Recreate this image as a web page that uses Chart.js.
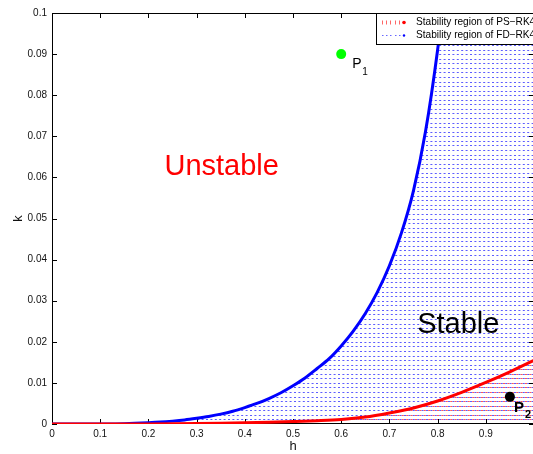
<!DOCTYPE html>
<html>
<head>
<meta charset="utf-8">
<script src="https://cdn.jsdelivr.net/npm/chart.js@4.4.1/dist/chart.umd.min.js"></script>
<style>
  html, body { margin: 0; padding: 0; overflow: hidden; background: #fff; width: 533px; height: 454px; }
  canvas { display: block; }
</style>
</head>
<body>
<canvas id="c" width="539" height="454"></canvas>
<script>
// Stability boundary of FD-RK4 (blue) and PS-RK4 (red) in the (h, k) plane
const hFD = [0, 0.1, 0.15, 0.2, 0.225, 0.25, 0.275, 0.3, 0.325, 0.35, 0.375, 0.4, 0.425, 0.45, 0.475, 0.5, 0.525, 0.55, 0.575, 0.6, 0.625, 0.65, 0.675, 0.7, 0.725, 0.75, 0.775, 0.8, 0.809];
const kFD = [0, 0.00002, 0.00008, 0.0003, 0.00046, 0.0007, 0.001, 0.0014, 0.00185, 0.0024, 0.0031, 0.004, 0.005, 0.0062, 0.0076, 0.0093, 0.0112, 0.0135, 0.0159, 0.019, 0.0226, 0.0269, 0.0321, 0.0385, 0.0465, 0.0568, 0.0712, 0.091, 0.1];

const hPS = [0, 0.1, 0.2, 0.3, 0.35, 0.4, 0.45, 0.5, 0.55, 0.6, 0.65, 0.7, 0.75, 0.8, 0.85, 0.9, 0.95, 1.0];
const kPS = [0, 0.000002, 0.00002, 0.0001, 0.00018, 0.0003, 0.00044, 0.0006, 0.0008, 0.0011, 0.0017, 0.0027, 0.0039, 0.0056, 0.0077, 0.0101, 0.0127, 0.0155];

// Test points
const pointNames = ['P', 'P'];
const pointSubs = ['1', '2'];
const pointH = [0.6, 0.95];
const pointK = [0.09, 0.0066];

// Axis ticks
const xTicks = [0, 0.1, 0.2, 0.3, 0.4, 0.5, 0.6, 0.7, 0.8, 0.9, 1];
const yTicks = [0, 0.01, 0.02, 0.03, 0.04, 0.05, 0.06, 0.07, 0.08, 0.09, 0.1];

const legendLabels = ['Stability region of PS\u2212RK4', 'Stability region of FD\u2212RK4'];
const regionNames = ['Unstable', 'Stable'];

const FONT = "'Liberation Sans', Arial, Helvetica, sans-serif";

function pairs(xs, ys) { return xs.map((x, i) => ({ x: x, y: ys[i] })); }

// Path of a dataset's line, as the library builds it
function linePath(ctx, chart, idx) {
  const meta = chart.getDatasetMeta(idx);
  const line = meta.dataset;
  try {
    if (line.updateControlPoints) line.updateControlPoints(chart.chartArea, 'x');
    line.path(ctx);
  } catch (e) {
    meta.data.forEach((p, i) => i ? ctx.lineTo(p.x, p.y) : ctx.moveTo(p.x, p.y));
  }
  return meta.data;
}

// Horizontal hatching of the two stability regions
const hatchPlugin = {
  id: 'hatch',
  beforeDatasetsDraw(chart) {
    const { ctx, chartArea: a, scales } = chart;
    const rows = [];
    for (let i = 1; i < 90; i++) rows.push(Math.round(scales.y.getPixelForValue(0.1 * i / 90)) + 0.5);

    // FD-RK4 region: below/right of the blue curve
    ctx.save();
    ctx.beginPath();
    let pts = linePath(ctx, chart, 2);
    ctx.lineTo(a.right, a.top);
    ctx.lineTo(a.right, a.bottom);
    ctx.lineTo(pts[0].x, a.bottom);
    ctx.closePath();
    ctx.clip();
    ctx.strokeStyle = 'rgba(30,30,255,0.72)';
    ctx.lineWidth = 1;
    ctx.setLineDash([2, 2.4]);
    ctx.beginPath();
    rows.forEach(y => { ctx.moveTo(a.left, y); ctx.lineTo(a.right, y); });
    ctx.stroke();
    ctx.restore();

    // PS-RK4 region: below the red curve
    ctx.save();
    ctx.beginPath();
    pts = linePath(ctx, chart, 1);
    ctx.lineTo(a.right, a.bottom);
    ctx.lineTo(pts[0].x, a.bottom);
    ctx.closePath();
    ctx.clip();
    ctx.strokeStyle = 'rgba(255,0,0,0.65)';
    ctx.lineWidth = 1;
    ctx.setLineDash([2, 2.4]);
    ctx.lineDashOffset = 2.2;
    ctx.beginPath();
    rows.forEach(y => { ctx.moveTo(a.left, y); ctx.lineTo(a.right, y); });
    ctx.stroke();
    ctx.restore();

    // Axes box with inward ticks
    ctx.save();
    ctx.strokeStyle = '#000';
    ctx.lineWidth = 1;
    ctx.strokeRect(a.left + 0.5, a.top + 0.5, a.right - a.left - 1, a.bottom - a.top - 1);
    ctx.beginPath();
    xTicks.forEach(v => {
      const x = Math.round(scales.x.getPixelForValue(v)) + 0.5;
      ctx.moveTo(x, a.bottom); ctx.lineTo(x, a.bottom - 5);
      ctx.moveTo(x, a.top); ctx.lineTo(x, a.top + 5);
    });
    yTicks.forEach(v => {
      const y = Math.round(scales.y.getPixelForValue(v)) + 0.5;
      ctx.moveTo(a.left, y); ctx.lineTo(a.left + 5, y);
      ctx.moveTo(a.right, y); ctx.lineTo(a.right - 5, y);
    });
    ctx.stroke();
    ctx.restore();
  }
};

// Region names, point labels and the legend box
const labelsPlugin = {
  id: 'labels',
  afterDraw(chart) {
    const { ctx, chartArea: a, scales } = chart;
    const sx = scales.x, sy = scales.y;
    ctx.save();
    ctx.textBaseline = 'alphabetic';

    ctx.font = '29px ' + FONT;
    ctx.textAlign = 'center';
    ctx.fillStyle = '#ff0000';
    ctx.fillText(regionNames[0], sx.getPixelForValue(0.352), sy.getPixelForValue(0.0606));
    ctx.fillStyle = '#000';
    ctx.fillText(regionNames[1], sx.getPixelForValue(0.843), sy.getPixelForValue(0.0221));

    // point labels
    const pm = chart.getDatasetMeta(0).data;
    ctx.textAlign = 'left';
    ctx.fillStyle = '#000';
    ctx.font = '14px ' + FONT;
    ctx.fillText(pointNames[0], pm[0].x + 11, pm[0].y + 14);
    ctx.font = '10px ' + FONT;
    ctx.fillText(pointSubs[0], pm[0].x + 21, pm[0].y + 21);
    ctx.font = 'bold 15px ' + FONT;
    ctx.fillText(pointNames[1], pm[1].x + 4, pm[1].y + 15);
    ctx.font = 'bold 11px ' + FONT;
    ctx.fillText(pointSubs[1], pm[1].x + 15, pm[1].y + 21);

    // legend
    const bx = Math.round(a.right - 158), by = Math.round(a.top), bh = 31;
    ctx.fillStyle = '#fff';
    ctx.fillRect(bx, by, 200, bh);
    ctx.strokeStyle = '#000';
    ctx.lineWidth = 1;
    ctx.strokeRect(bx + 0.5, by + 0.5, 200, bh);
    const rowsY = [by + 9.5, by + 22.5];
    const cols = ['#ff0000', '#0000ff'];
    rowsY.forEach((y, i) => {
      ctx.save();
      ctx.globalAlpha = 0.6;
      ctx.fillStyle = cols[i];
      for (let j = 0; j < 5; j++) {
        const x = bx + 6 + j * 4.2;
        if (i === 0) ctx.fillRect(Math.round(x), y - 2, 1, 4);
        else ctx.fillRect(Math.round(x), y - 0.5, 1.5, 1);
      }
      ctx.restore();
      ctx.fillStyle = cols[i];
      ctx.beginPath();
      ctx.arc(bx + 28, y, i === 0 ? 1.8 : 1.2, 0, Math.PI * 2);
      ctx.fill();
      ctx.fillStyle = '#000';
      ctx.font = '10.1px ' + FONT;
      ctx.textBaseline = 'middle';
      ctx.fillText(legendLabels[i], bx + 40, y);
    });
    ctx.restore();
  }
};

new Chart(document.getElementById('c'), {
  type: 'line',
  data: {
    datasets: [
      {
        type: 'scatter',
        data: pairs(pointH, pointK),
        pointRadius: 5,
        pointBorderWidth: 0,
        pointBackgroundColor: ['#00ff00', '#000000'],
        showLine: false
      },
      {
        data: pairs(hPS, kPS),
        borderColor: '#ff0000',
        borderWidth: 3,
        pointRadius: 0,
        fill: false,
        cubicInterpolationMode: 'monotone'
      },
      {
        data: pairs(hFD, kFD),
        borderColor: '#0000ff',
        borderWidth: 3,
        pointRadius: 0,
        fill: false,
        cubicInterpolationMode: 'monotone'
      }
    ]
  },
  options: {
    responsive: false,
    animation: false,
    devicePixelRatio: 1,
    layout: { padding: { top: 13, right: 2, left: 0, bottom: 0 } },
    plugins: { legend: { display: false }, tooltip: { enabled: false } },
    scales: {
      x: {
        type: 'linear', min: 0, max: 1,
        afterFit(s) { s.height = 30; },
        afterBuildTicks(s) { s.ticks = xTicks.map(v => ({ value: v })); },
        grid: { display: false, drawTicks: false },
        border: { display: false },
        ticks: {
          padding: 4, autoSkip: false, maxRotation: 0, color: '#111',
          font: { family: FONT, size: 10 },
          callback: v => (v >= 1 ? '' : String(Number(v.toFixed(2))))
        },
        title: { display: true, text: 'h', color: '#111', font: { family: FONT, size: 13 }, padding: { top: 0, bottom: 0 } }
      },
      y: {
        type: 'linear', min: 0, max: 0.1,
        afterFit(s) { s.width = 52; },
        afterBuildTicks(s) { s.ticks = yTicks.map(v => ({ value: v })); },
        grid: { display: false, drawTicks: false },
        border: { display: false },
        ticks: {
          padding: 5, autoSkip: false, color: '#111',
          font: { family: FONT, size: 10 },
          callback: v => String(Number(v.toFixed(3)))
        },
        title: { display: true, text: 'k', color: '#111', font: { family: FONT, size: 13 }, padding: { top: 11, bottom: 0 } }
      }
    }
  },
  plugins: [hatchPlugin, labelsPlugin]
});
</script>
</body>
</html>
